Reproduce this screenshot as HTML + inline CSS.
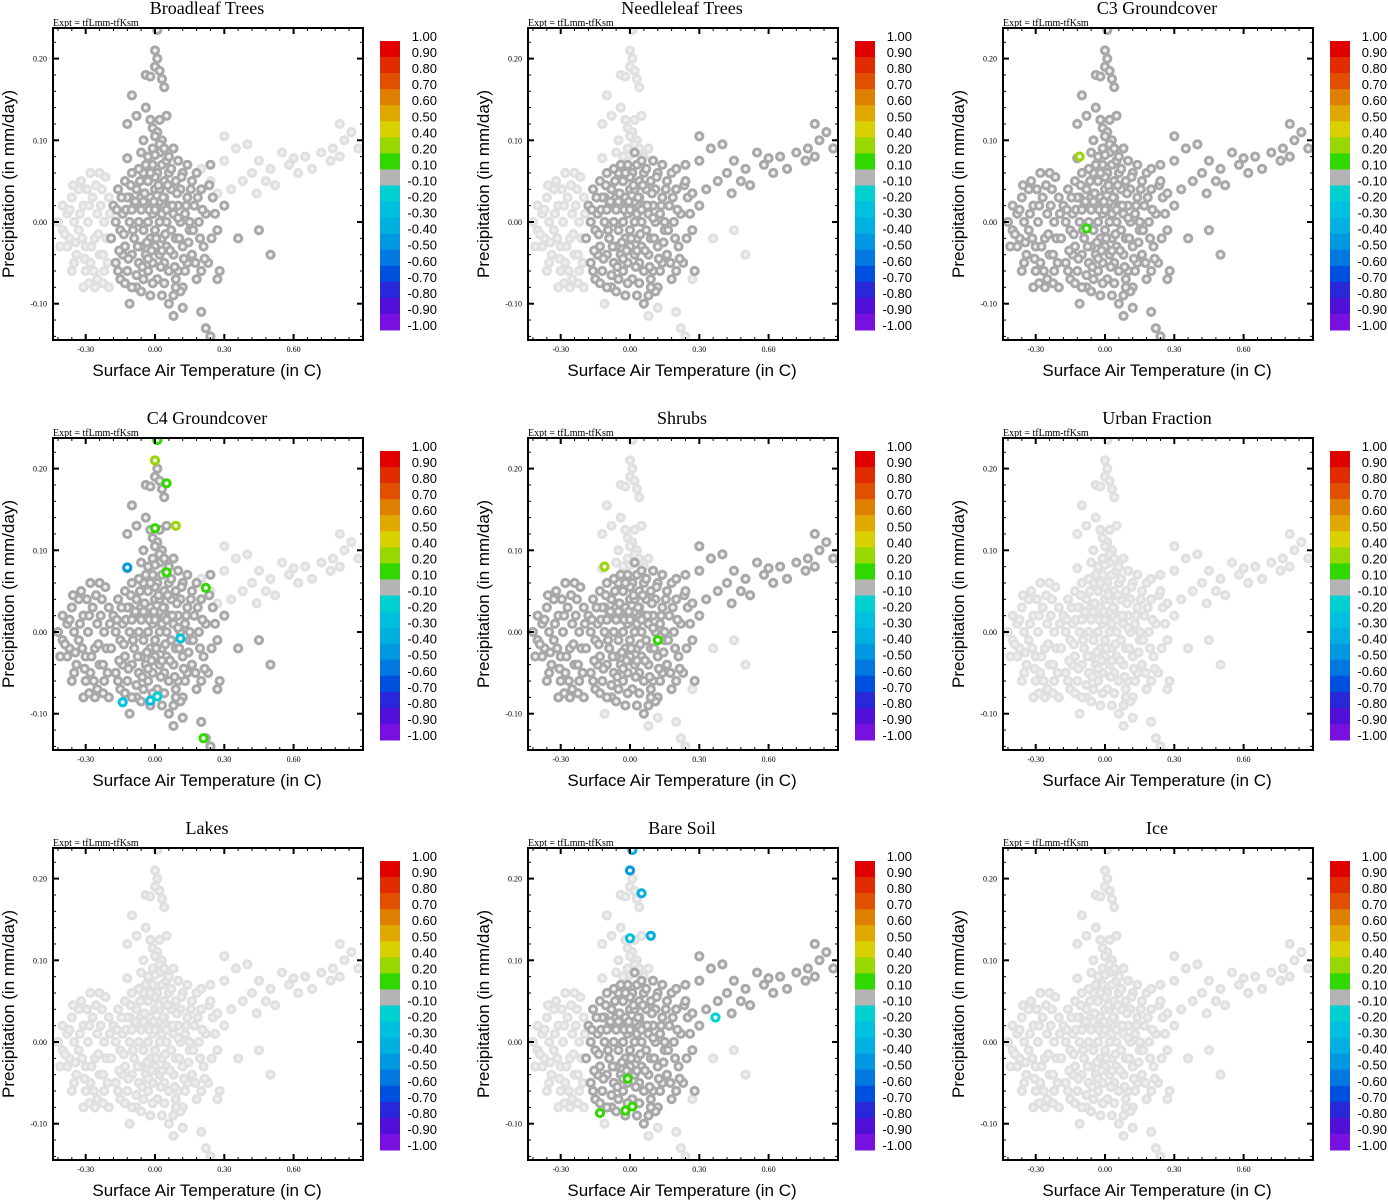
<!DOCTYPE html>
<html><head><meta charset="utf-8"><style>
body{margin:0;background:#fff;width:1388px;height:1200px;overflow:hidden}
svg{display:block}
.ttl{font-family:"Liberation Serif",serif;font-size:18px}
.expt{font-family:"Liberation Serif",serif;font-size:10px}
.tick{font-family:"Liberation Serif",serif;font-size:8px}
.axl{font-family:"Liberation Sans",sans-serif;font-size:17px}
.cbl{font-family:"Liberation Sans",sans-serif;font-size:13px}
</style></head><body>
<svg id="fig" width="1388" height="1200" viewBox="0 0 1388 1200"></svg>
<script>
const titles=["Broadleaf Trees","Needleleaf Trees","C3 Groundcover","C4 Groundcover","Shrubs","Urban Fraction","Lakes","Bare Soil","Ice"];
const xTicks=[-0.30,0.00,0.30,0.60];
const yTicks=[-0.10,0.00,0.10,0.20];
const cbLabels=["1.00","0.90","0.80","0.70","0.60","0.50","0.40","0.20","0.10","-0.10","-0.20","-0.30","-0.40","-0.50","-0.60","-0.70","-0.80","-0.90","-1.00"];
const cbColors=["#e00000","#e02c00","#e05000","#e08000","#e0a800","#d8d000","#98d800","#30d800","#b4b4b4","#00d0d0","#00c0e0","#00b0e0","#0098e0","#0078e0","#0050e0","#2828d8","#5010d8","#7810e0"];
const ptsLeft=[[-0.42,0.0],[-0.4,-0.01],[-0.38,0.01],[-0.4,0.02],[-0.37,-0.02],[-0.35,0.0],[-0.36,0.03],[-0.33,-0.01],[-0.34,-0.04],[-0.31,0.02],[-0.32,0.05],[-0.3,-0.03],[-0.29,0.0],[-0.28,-0.05],[-0.3,-0.06],[-0.27,0.03],[-0.26,-0.02],[-0.25,0.01],[-0.24,-0.04],[-0.23,0.04],[-0.22,-0.06],[-0.25,-0.07],[-0.22,0.0],[-0.21,-0.02],[-0.2,0.03],[-0.28,0.06],[-0.35,-0.05],[-0.38,-0.03],[-0.33,0.04],[-0.26,-0.08],[-0.2,-0.08],[-0.24,0.06],[-0.41,-0.03],[-0.36,-0.06],[-0.31,-0.08],
 [-0.39,-0.015],[-0.37,0.015],[-0.345,-0.025],[-0.325,0.01],[-0.305,-0.045],[-0.285,0.02],[-0.275,-0.03],[-0.255,0.045],[-0.245,-0.015],[-0.235,0.02],[-0.225,-0.04],[-0.215,0.055],[-0.205,-0.05],[-0.265,-0.06],[-0.295,0.04],[-0.315,-0.02],[-0.355,0.045],[-0.225,-0.075],[-0.285,-0.075],[-0.195,0.01]];
const ptsCenter=[[-0.19,-0.02],[-0.18,0.02],[-0.17,-0.05],[-0.16,0.04],[-0.15,-0.01],[-0.15,-0.07],[-0.14,0.01],[-0.13,-0.03],[-0.13,0.05],[-0.12,-0.06],[-0.11,0.0],[-0.11,0.03],[-0.1,-0.04],[-0.1,0.06],[-0.09,-0.02],[-0.09,0.02],[-0.08,-0.08],[-0.08,0.04],[-0.07,-0.05],[-0.07,0.0],[-0.06,0.03],[-0.06,-0.03],[-0.05,0.06],[-0.05,-0.01],[-0.05,-0.07],[-0.04,0.02],[-0.04,-0.04],[-0.03,0.05],[-0.03,0.0],[-0.03,-0.06],[-0.02,0.03],[-0.02,-0.02],[-0.01,0.07],[-0.01,0.01],[-0.01,-0.05],[0.0,0.04],[0.0,-0.01],[0.0,-0.03],[0.01,0.02],[0.01,0.06],[0.01,-0.07],[0.02,0.0],[0.02,-0.04],[0.02,0.04],[0.03,0.07],[0.03,0.01],[0.03,-0.02],[0.04,0.03],[0.04,-0.05],[0.04,0.05],[0.05,0.0],[0.05,-0.03],[0.06,0.02],[0.06,0.06],[0.06,-0.06],[0.07,-0.01],[0.07,0.04],[0.08,0.01],[0.08,-0.04],[0.09,0.05],[0.09,-0.02],[0.1,0.02],[0.1,-0.06],[0.11,0.0],[0.11,0.04],[0.12,-0.03],[0.12,0.06],[0.13,0.01],[0.14,-0.05],[0.14,0.03],[0.15,-0.01],[0.16,0.05],[0.16,-0.04],[0.17,0.02],[0.18,-0.07],[0.19,0.0],[0.2,0.04],[0.21,-0.03],[0.22,0.01],[0.23,-0.05],[0.25,0.03],[0.27,-0.01],[0.28,-0.06],[0.3,0.02],[0.12,-0.08],[0.08,-0.09],[0.06,-0.1],[0.03,-0.09],[-0.02,-0.09],[-0.1,-0.08],[-0.14,-0.04],[-0.17,0.0],[-0.12,0.03],[0.0,0.055],[-0.07,0.065],[0.14,0.07],[0.18,0.06],[0.24,0.07],[0.05,0.075],[-0.01,-0.075],[0.1,0.075],[0.2,-0.06],[-0.04,0.07],[0.15,0.0],[0.02,0.025],[-0.06,0.015],[0.09,-0.07],
 [-0.165,0.015],[-0.155,-0.035],[-0.145,0.03],[-0.135,-0.015],[-0.125,0.015],[-0.115,-0.045],[-0.105,0.045],[-0.095,-0.01],[-0.085,0.025],[-0.075,-0.03],[-0.065,0.05],[-0.055,-0.055],[-0.045,0.035],[-0.035,-0.025],[-0.025,0.015],[-0.015,-0.035],[-0.005,0.025],[0.005,-0.02],[0.015,0.045],[0.025,-0.055],[0.035,0.03],[0.045,-0.015],[0.055,0.045],[0.065,-0.035],[0.075,0.02],[0.085,-0.055],[0.095,0.035],[0.105,-0.02],[0.115,0.055],[0.125,-0.045],[0.135,0.02],[0.145,-0.025],[0.155,0.04],[0.165,-0.01],[0.175,-0.05],[0.185,0.03],[0.195,-0.02],[0.205,0.015],[0.215,-0.045],[0.235,0.045],[0.245,-0.02],[0.26,0.01],[-0.08,-0.065],[-0.02,0.06],[0.04,-0.075],[0.11,-0.085],[-0.13,-0.075],[0.07,0.065],[-0.1,0.015],[0.0,0.015],[0.1,0.005],[-0.05,0.025],[0.05,0.015],[-0.03,-0.045],[0.03,-0.035],[0.13,-0.06],[-0.16,-0.06],[0.02,0.085],[-0.06,-0.085],[0.09,-0.08]];
const ptsPlume=[[0.01,0.235],[0,0.21],[0.01,0.2],[0.0,0.19],[0.02,0.185],[-0.04,0.18],[-0.02,0.178],[0.03,0.175],[-0.1,0.155],[0.04,0.165],[-0.04,0.14],[-0.08,0.13],[-0.02,0.125],[0.02,0.125],[0.05,0.13],[-0.12,0.12],[-0.01,0.115],[0.01,0.11],[0.0,0.105],[0.03,0.1],[-0.05,0.1],[0.02,0.095],[-0.01,0.09],[0.04,0.09],[0.08,0.09],[-0.06,0.085],[0.0,0.082],[0.06,0.08],[-0.12,0.078],[-0.03,0.08]];
const ptsRight=[[0.85,0.11],[0.8,0.12],[0.82,0.1],[0.77,0.09],[0.72,0.085],[0.8,0.08],[0.76,0.075],[0.65,0.08],[0.6,0.078],[0.55,0.085],[0.5,0.065],[0.58,0.07],[0.62,0.06],[0.68,0.065],[0.45,0.075],[0.48,0.05],[0.52,0.045],[0.42,0.06],[0.4,0.095],[0.35,0.09],[0.38,0.05],[0.44,0.035],[0.3,0.105],[0.88,0.09],[0.3,0.075],[0.33,0.04],[0.24,0.05],[0.27,0.035],[0.2,0.065]];
const ptsOut=[[0.12,-0.105],[0.08,-0.115],[0.2,-0.11],[0.22,-0.13],[0.24,-0.14],[-0.11,-0.1],[0.27,-0.07],[0.45,-0.01],[0.5,-0.04],[0.36,-0.02]];
// per-panel shade of each region: d=dark, l=light  (order: left, center, plume, right, outliers)
const panelShade=["lddld","ldldl","ddddd","dddld","ddldl","lllll","lllll","ldldl","lllll"];
const colored=[[],[],[[-0.11,0.08,"#98d800"],[-0.08,-0.008,"#30d800"]],
 [[0.01,0.235,"#30d800"],[0.0,0.21,"#98d800"],[0.05,0.182,"#30d800"],[0.0,0.127,"#30d800"],[0.09,0.13,"#98d800"],[0.05,0.073,"#30d800"],[0.22,0.054,"#30d800"],[0.21,-0.13,"#30d800"],[-0.12,0.079,"#0098e0"],[0.11,-0.008,"#00c0e0"],[-0.14,-0.086,"#00c0e0"],[-0.02,-0.084,"#00c0e0"],[0.01,-0.079,"#00d0d0"]],
 [[-0.11,0.08,"#98d800"],[0.12,-0.01,"#30d800"]],[],[],
 [[0.01,0.235,"#00b0e0"],[0.0,0.21,"#0098e0"],[0.05,0.182,"#00b0e0"],[0.0,0.127,"#00c0e0"],[0.09,0.13,"#00b0e0"],[0.37,0.03,"#00d0d0"],[-0.01,-0.045,"#30d800"],[-0.13,-0.087,"#30d800"],[-0.02,-0.084,"#30d800"],[0.01,-0.079,"#30d800"]],[]];
const regions=[ptsLeft,ptsCenter,ptsPlume,ptsRight,ptsOut];

const NS="http://www.w3.org/2000/svg";
const svg=document.getElementById('fig');
function mk(tag,attrs,parent,text){const e=document.createElementNS(NS,tag);for(const k in attrs)e.setAttribute(k,attrs[k]);if(text!==undefined)e.textContent=text;parent.appendChild(e);return e;}
const X0=53,X1=363,Y0=28,Y1=340;
const xs=t=>155+t*231;
const ys=p=>222-p*817;
const LIGHT="#e0e0e0",DARK="#a8a8a8";

titles.forEach((title,i)=>{
  const col=i%3,row=Math.floor(i/3);
  const g=mk('g',{transform:`translate(${col*475},${row*410})`},svg);
  
  
  const t=mk('text',{x:207,y:14,'text-anchor':'middle',class:'ttl'},g,title);
  
  
  const ex=mk('text',{x:53,y:26,class:'expt'},g,'Expt = tfLmm-tfKsm');
  
  
  const clip='clip'+i;
  const cp=mk('clipPath',{id:clip},g);mk('rect',{x:X0,y:Y0,width:X1-X0,height:Y1-Y0},cp);
  const pg=mk('g',{'clip-path':`url(#${clip})`},g);
  
  
  const shade=panelShade[i];
  ['l','d'].forEach(pass=>{
    regions.forEach((pts,r)=>{
      if(shade[r]!==pass)return;
      pts.forEach(p=>{
        const c=mk('circle',{cx:xs(p[0]),cy:ys(p[1]),r:3.6,fill:'#f0f0f0',stroke:pass==='d'?DARK:LIGHT,'stroke-width':3},pg);
        
        
      });
    });
  });
  colored[i].forEach(p=>{
    const c=mk('circle',{cx:xs(p[0]),cy:ys(p[1]),r:3.6,fill:'#f0f0f0',stroke:p[2],'stroke-width':3},pg);
    
    
  });
  const fr=mk('rect',{x:X0,y:Y0,width:X1-X0,height:Y1-Y0,fill:'none',stroke:'#000','stroke-width':2},g);
  
  
  for(let v=-0.42;v<=0.9;v+=0.06){const x=xs(v);if(x<X0||x>X1)continue;
    mk('line',{x1:x,x2:x,y1:Y1,y2:Y1-3,stroke:'#000','stroke-width':1},g);mk('line',{x1:x,x2:x,y1:Y0,y2:Y0+3,stroke:'#000','stroke-width':1},g);}
  for(let v=-0.14;v<=0.24;v+=0.02){const y=ys(v);if(y<Y0||y>Y1)continue;
    mk('line',{x1:X0,x2:X0+3,y1:y,y2:y,stroke:'#000','stroke-width':1},g);mk('line',{x1:X1,x2:X1-3,y1:y,y2:y,stroke:'#000','stroke-width':1},g);}
  xTicks.forEach(v=>{const x=xs(v);
    mk('line',{x1:x,x2:x,y1:Y1,y2:Y1-6,stroke:'#000','stroke-width':2},g);mk('line',{x1:x,x2:x,y1:Y0,y2:Y0+6,stroke:'#000','stroke-width':2},g);
    const tl=mk('text',{x:x,y:352,'text-anchor':'middle',class:'tick'},g,v.toFixed(2));
    
    });
  yTicks.forEach(v=>{const y=ys(v);
    mk('line',{x1:X0,x2:X0+6,y1:y,y2:y,stroke:'#000','stroke-width':2},g);mk('line',{x1:X1,x2:X1-6,y1:y,y2:y,stroke:'#000','stroke-width':2},g);
    const tl=mk('text',{x:47,y:y+3,'text-anchor':'end',class:'tick'},g,v.toFixed(2));
    
    });
  const xl=mk('text',{x:207,y:376,'text-anchor':'middle',class:'axl'},g,'Surface Air Temperature (in C)');
  
  
  const yl=mk('text',{x:0,y:0,'text-anchor':'middle',class:'axl',transform:'translate(14,184) rotate(-90)'},g,'Precipitation (in mm/day)');
  
  
  const cb=mk('g',{},g);
  
  
  const segH=289/cbColors.length;
  cbColors.forEach((c,k)=>{const s=mk('rect',{x:380,y:41+k*segH,width:20,height:segH+0.5,fill:c},cb);
    
    });
  cbLabels.forEach((l,k)=>{const tl=mk('text',{x:437,y:41+k*segH,'text-anchor':'end',class:'cbl'},cb,l);
    
    });
});
</script>
</body></html>
